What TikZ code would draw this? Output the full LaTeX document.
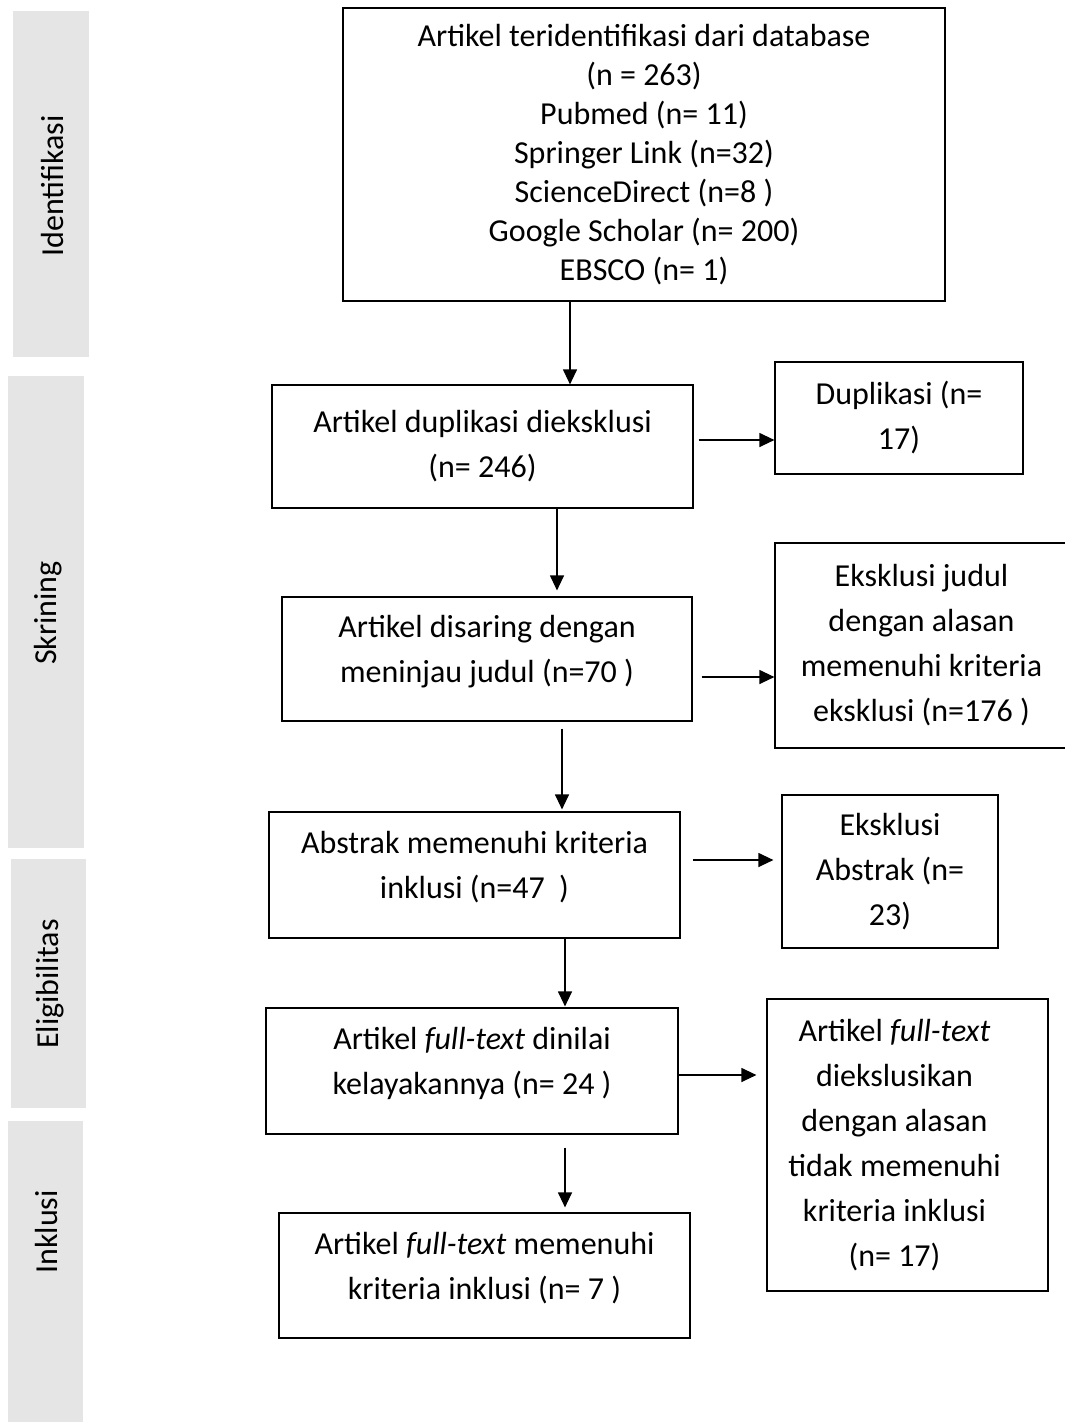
\documentclass[tikz,border=0pt]{standalone}
\usepackage{fontspec}
\setmainfont{Carlito}
\usetikzlibrary{arrows.meta, calc, positioning}

\begin{document}
\begin{tikzpicture}[
            x=1pt, y=-1pt,
            >={Triangle[length=15pt, width=14pt]},
            line width=1.2pt,
            font=\fontsize{32}{45}\selectfont,
            box/.style={draw, rectangle, align=center, inner sep=0pt},
            lifted/.style={execute at end node={\rule[-#1]{0pt}{0pt}}},
            lifted/.default=20pt,
            stage/.style={fill=black!10, draw=none}
        ]
        \useasboundingbox (0, 0) rectangle (1065, 1425);

        % Stage bars
        \fill[stage] (13, 11) rectangle (89, 357);
        \fill[stage] (8, 376) rectangle (84, 848);
        \fill[stage] (11, 859) rectangle (86, 1108);
        \fill[stage] (8, 1121) rectangle (83, 1422);
        \node[rotate=90] (identifikasi) at (53, 186) {Identifikasi};
        \node[rotate=90] (skrining) at (48, 613) {Skrining};
        \node[rotate=90] (eligibilitas) at (50, 984) {Eligibilitas};
        \node[rotate=90] (inklusi) at (47, 1232) {Inklusi};

        % Main flow
        \node[box, minimum width=602pt, minimum height=293pt, font=\fontsize{32}{39}\selectfont,
              execute at begin node={\rule{0pt}{40pt}}] (db) at (644, 154.5) {Artikel teridentifikasi dari database\\(n = 263)\\Pubmed (n= 11)\\Springer Link (n=32)\\ScienceDirect (n=8 )\\Google Scholar (n= 200)\\EBSCO (n= 1)};
        \node[box, minimum width=421pt, minimum height=123pt] (dup) at (482.5, 446.5) {Artikel duplikasi dieksklusi\\(n= 246)};
        \node[box, lifted, minimum width=410pt, minimum height=124pt] (screen) at (487, 659) {Artikel disaring dengan\\meninjau judul (n=70 )};
        \node[box, lifted, minimum width=411pt, minimum height=126pt] (abstract) at (474.5, 875) {Abstrak memenuhi kriteria\\inklusi (n=47~~)};
        \node[box, lifted, minimum width=412pt, minimum height=126pt] (fulltext) at (472, 1071) {Artikel \textit{full-text} dinilai\\kelayakannya (n= 24 )};
        \node[box, lifted, minimum width=411pt, minimum height=125pt] (included) at (484.5, 1275.5) {Artikel \textit{full-text} memenuhi\\kriteria inklusi (n= 7 )};

        % Excluded
        \node[box, minimum width=248pt, minimum height=112pt] (dup_ex) at (899, 418) {Duplikasi (n=\\17)};
        \node[box, minimum width=293pt, minimum height=205pt] (title_ex) at (921.5, 645.5) {Eksklusi judul\\dengan alasan\\memenuhi kriteria\\eksklusi (n=176 )};
        \node[box, minimum width=216pt, minimum height=153pt] (abstract_ex) at (890, 871.5) {Eksklusi\\Abstrak (n=\\23)};
        \node[draw, rectangle, inner sep=0pt, minimum width=281pt, minimum height=292pt] (fulltext_ex) at (907.5, 1145) {\begin{tabular}{@{}c@{}}Artikel \textit{full-text}\\diekslusikan\\dengan alasan\\tidak memenuhi\\kriteria inklusi\\(n= 17)\end{tabular}\hspace*{26pt}};

        % Down arrows
        \draw[->] ($(db.south) + (-74, 0)$) to ($(dup.north west)!(\tikztostart)!(dup.north east)$);
        \draw[->, shorten >=6pt] ($(dup.south) + (74.5, 0)$) to ($(screen.north west)!(\tikztostart)!(screen.north east)$);
        \draw[->, shorten >=2pt] ($(screen.south) + (75, 7)$) to ($(abstract.north west)!(\tikztostart)!(abstract.north east)$);
        \draw[->, shorten >=1pt] ($(abstract.south) + (90.5, 0)$) to ($(fulltext.north west)!(\tikztostart)!(fulltext.north east)$);
        \draw[->, shorten >=5pt] ($(fulltext.south) + (93, 13)$) to ($(included.north west)!(\tikztostart)!(included.north east)$);

        % Side arrows
        \draw[->] ($(dup.east) + (5, -6.5)$) to ($(dup_ex.north west)!(\tikztostart)!(dup_ex.south west)$);
        \draw[->] ($(screen.east) + (9, 18)$) to ($(title_ex.north west)!(\tikztostart)!(title_ex.south west)$);
        \draw[->, shorten >=8pt] ($(abstract.east) + (12, -15)$) to ($(abstract_ex.north west)!(\tikztostart)!(abstract_ex.south west)$);
        \draw[->, shorten >=10pt] ($(fulltext.east) + (0, 4)$) to ($(fulltext_ex.north west)!(\tikztostart)!(fulltext_ex.south west)$);
    \end{tikzpicture}
\end{document}
